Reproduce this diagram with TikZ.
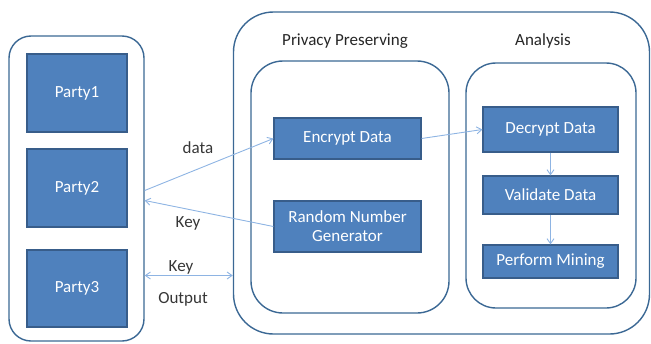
\documentclass[tikz,border=0pt]{standalone}
\usepackage{fontspec}
\setmainfont{Carlito}
\usetikzlibrary{arrows.meta}
\definecolor{boxfill}{HTML}{4F81BD}
\definecolor{boxline}{HTML}{385D8A}
\definecolor{contline}{HTML}{3B6894}
\definecolor{arrowc}{HTML}{8EB4E3}
\definecolor{txt}{HTML}{363636}
\tikzset{
  procbox/.style={draw=boxline, line width=1.2pt, fill=boxfill, text=white, font=\fontsize{17}{19}\selectfont, align=center, inner sep=0pt},
  container/.style={draw=contline, line width=1.4pt, inner sep=0pt},
  conn/.style={draw=arrowc, line width=0.9pt, -{Straight Barb[length=5pt,width=7pt]}},
  lbl/.style={text=txt, font=\fontsize{17}{19}\selectfont, inner sep=0pt},
}
\begin{document}
\begin{tikzpicture}[x=1pt,y=-1pt]
\useasboundingbox (0,0) rectangle (651,343);
% containers
\node[container, rounded corners=22pt, minimum width=135pt, minimum height=305pt] (left) at (76.5,188.5) {};
\node[container, rounded corners=40pt, minimum width=416pt, minimum height=322pt] (big) at (441.5,173) {};
\node[container, rounded corners=32pt, minimum width=198pt, minimum height=252pt] (priv) at (350,187) {};
\node[container, rounded corners=30pt, minimum width=170pt, minimum height=245pt] (anal) at (551,185.5) {};
% titles
\node[lbl, text=black!85] (tpriv) at (345,41) {Privacy Preserving};
\node[lbl, text=black!85] (tanal) at (543,41) {Analysis};
% parties
\node[procbox, minimum width=100pt, minimum height=78pt] (p1) at (77,93) {Party1};
\node[procbox, minimum width=100pt, minimum height=78pt] (p2) at (77,188) {Party2};
\node[procbox, minimum width=100pt, minimum height=77pt] (p3) at (77,288.5) {Party3};
% privacy boxes
\node[procbox, minimum width=147pt, minimum height=41pt] (enc) at (347.5,138.5) {Encrypt Data};
\node[procbox, minimum width=147pt, minimum height=51pt] (rng) at (347.5,226.5) {Random Number\\Generator};
% analysis boxes
\node[procbox, minimum width=135pt, minimum height=45pt] (dec) at (550.5,129.5) {Decrypt Data};
\node[procbox, minimum width=135pt, minimum height=38pt] (val) at (550.5,195) {Validate Data};
\node[procbox, minimum width=135pt, minimum height=33pt] (min) at (550.5,261.5) {Perform Mining};
% connectors
\coordinate (ldata) at ([yshift=-2pt]left.east);
\coordinate (lkey) at ([yshift=-12pt]left.east);
\coordinate (lout) at ([yshift=-87pt]left.east);
\draw[conn] (ldata) -- (enc.west);
\draw[conn] (rng.west) -- (lkey);
\draw[conn, {Straight Barb[length=5pt,width=7pt]}-{Straight Barb[length=5pt,width=7pt]}] (lout) -- (lout -| big.west);
\draw[conn] (enc.east) -- (dec.west);
\draw[conn] (dec.south) -- (val.north);
\draw[conn] (val.south) -- (min.north);
% labels
\node[lbl] (ldatat) at (198,148) {data};
\node[lbl] (lkeyt) at (188,223) {Key};
\node[lbl] (lkey2) at (181,267) {Key};
\node[lbl] (loutt) at (183,299) {Output};
\end{tikzpicture}
\end{document}
